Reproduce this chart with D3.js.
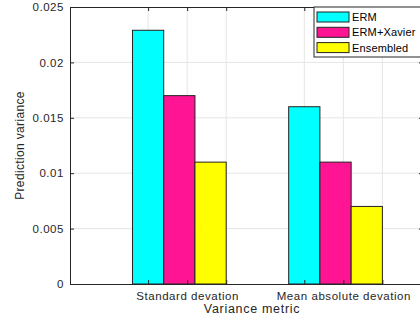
<!DOCTYPE html>
<html>
<head>
<meta charset="utf-8">
<script src="https://cdn.jsdelivr.net/npm/d3@7"></script>
<style>
  body { margin: 0; background: #fff; }
  svg { display: block; font-family: "Liberation Sans", Arial, sans-serif; }
</style>
</head>
<body>
<svg id="chart" width="420" height="324"></svg>
<script>
// data
const metrics = ["Standard devation", "Mean absolute devation"];
const methods = ["ERM", "ERM+Xavier", "Ensembled"];
const colors = ["#00ffff", "#ff1493", "#ffff00"];
const erm = [0.0229, 0.016];
const ermXavier = [0.017, 0.011];
const ensembled = [0.011, 0.007];
const yTicks = [0, 0.005, 0.01, 0.015, 0.02, 0.025];
const xTicks = [0.8, 1.05, 1.3, 1.8, 2.05, 2.3];
const xTickLabels = ["", "Standard devation", "", "", "Mean absolute devation", ""];

const series = [erm, ermXavier, ensembled];

let margin = {top: 7, left: 70},
  width = 353,
  height = 277;

let svg = d3.select("#chart");
let g = svg.append("g")
  .attr("transform", "translate(" + margin.left + "," + margin.top + ")");

let x = d3.scaleLinear().domain([0.3, 2.56]).range([0, width]);
let y = d3.scaleLinear().domain([0, 0.025]).range([height, 0]);
let barW = 0.2;

// grid
g.selectAll(".ygrid").data(yTicks.slice(1, -1)).join("line")
  .attr("x1", 0).attr("x2", width)
  .attr("y1", d => y(d)).attr("y2", d => y(d))
  .attr("stroke", "#e5e5e5");
g.selectAll(".xgrid").data(xTicks).join("line")
  .attr("y1", 0).attr("y2", height)
  .attr("x1", d => x(d)).attr("x2", d => x(d))
  .attr("stroke", "#e5e5e5");

// bars
series.forEach((vals, s) => {
  g.selectAll(".bar" + s).data(vals).join("rect")
    .attr("x", (d, i) => x(i + 1 + (s - 1) * barW - barW / 2))
    .attr("width", x(barW) - x(0))
    .attr("y", d => y(d))
    .attr("height", d => height - y(d))
    .attr("fill", colors[s])
    .attr("stroke", "#222")
    .attr("stroke-width", 1);
});

// axes
let yAxis = g.append("g")
  .call(d3.axisLeft(y).tickValues(yTicks).tickFormat(d => d3.format("")(+d.toFixed(3))).tickSizeInner(-4).tickSizeOuter(0).tickPadding(6));
let yAxisR = g.append("g").attr("transform", "translate(" + width + ",0)")
  .call(d3.axisRight(y).tickValues(yTicks).tickFormat("").tickSizeInner(-4).tickSizeOuter(0));
let xAxis = g.append("g").attr("transform", "translate(0," + height + ")")
  .call(d3.axisBottom(x).tickValues(xTicks).tickFormat((d, i) => xTickLabels[i]).tickSizeInner(-4).tickSizeOuter(0).tickPadding(8));
let xAxisT = g.append("g")
  .call(d3.axisTop(x).tickValues(xTicks).tickFormat("").tickSizeInner(-4).tickSizeOuter(0));

[yAxis, yAxisR, xAxis, xAxisT].forEach(a => {
  a.select(".domain").attr("stroke", "#262626");
  a.selectAll(".tick line").attr("stroke", "#262626");
  a.selectAll("text").attr("fill", "#262626")
    .style("font-size", "11.5px").style("letter-spacing", "0.55px")
    .style("font-family", "Liberation Sans, Arial, sans-serif");
});

// axis titles
svg.append("text")
  .attr("x", 252).attr("y", 313)
  .attr("text-anchor", "middle")
  .style("font-size", "12.5px").style("letter-spacing", "0.7px").attr("fill", "#262626")
  .text("Variance metric");
svg.append("text")
  .attr("transform", "translate(24," + (margin.top + height / 2) + ") rotate(-90)")
  .attr("text-anchor", "middle")
  .style("font-size", "12px").style("letter-spacing", "0.35px").attr("fill", "#262626")
  .text("Prediction variance");

// legend
let legend = svg.append("g").attr("transform", "translate(314,7)");
legend.append("rect")
  .attr("x", 0).attr("y", 0).attr("width", 120).attr("height", 50)
  .attr("fill", "#fff").attr("stroke", "#262626").attr("stroke-width", 1);
methods.forEach((m, i) => {
  legend.append("rect")
    .attr("x", 3).attr("y", 5 + i * 15.3).attr("width", 32).attr("height", 10)
    .attr("fill", colors[i]).attr("stroke", "#222");
  legend.append("text")
    .attr("x", 38).attr("y", 14 + i * 15.3)
    .style("font-size", "11px").style("letter-spacing", "0.15px").attr("fill", "#000")
    .text(m);
});
</script>
</body>
</html>
